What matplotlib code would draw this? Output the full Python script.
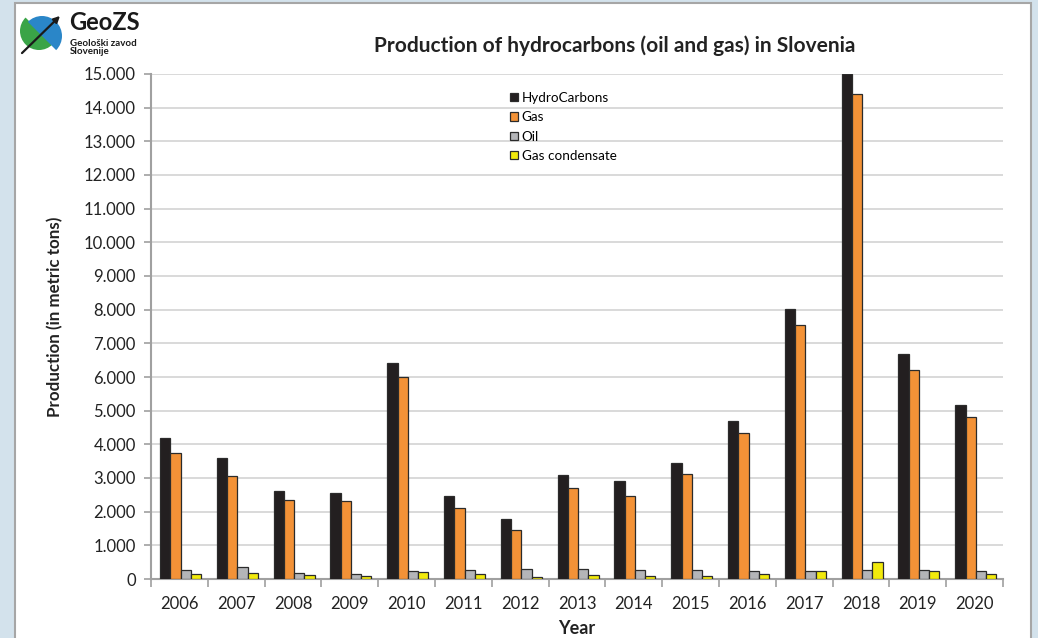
import matplotlib
matplotlib.use("Agg")
import matplotlib.pyplot as plt
import numpy as np
from matplotlib.patches import Rectangle, Wedge, FancyArrowPatch
from matplotlib.ticker import FuncFormatter, FixedLocator

plt.rcParams['font.family'] = ['Lato', 'DejaVu Sans']

years = ['2006', '2007', '2008', '2009', '2010', '2011', '2012', '2013',
         '2014', '2015', '2016', '2017', '2018', '2019', '2020']
hydrocarbons = [4180, 3580, 2620, 2550, 6420, 2470, 1780, 3090, 2910, 3460, 4690, 8010, 15000, 6690, 5170]
gas = [3740, 3070, 2350, 2330, 6000, 2100, 1460, 2700, 2460, 3110, 4330, 7550, 14410, 6220, 4820]
oil = [275, 350, 180, 150, 230, 270, 290, 310, 270, 270, 230, 250, 280, 280, 250]
condensate = [155, 170, 110, 100, 220, 150, 70, 130, 100, 100, 160, 240, 500, 230, 150]

series_names = ['HydroCarbons', 'Gas', 'Oil', 'Gas condensate']
series_colors = ['#231f20', '#f39237', '#b4b5b8', '#f2ea0c']
series_values = [hydrocarbons, gas, oil, condensate]

W, H = 1038, 638
fig = plt.figure(figsize=(W / 100, H / 100), dpi=100)
fig.patch.set_facecolor('#d3e2ec')
# white chart frame
fig.patches.append(Rectangle((15 / W, -0.01), (1031 - 15) / W, 1.01 - 3 / H,
                             transform=fig.transFigure, facecolor='white',
                             edgecolor='#a6a6a6', linewidth=1.5, zorder=-5))

ax = fig.add_axes([151 / W, 1 - 579 / H, (1003 - 151) / W, (579 - 74) / H])
ax.set_facecolor('none')

x = np.arange(len(years))
bw = 0.18
for i, (name, col, vals) in enumerate(zip(series_names, series_colors, series_values)):
    ax.bar(x + (i - 1.5) * bw + 0.02, vals, width=bw, color=col, edgecolor='#2b2b2b',
           linewidth=0.9, label=name, zorder=3)

ax.set_xlim(-0.5, len(years) - 0.5)
ax.set_ylim(0, 15000)
ax.set_yticks(np.arange(0, 15001, 1000))
ax.yaxis.set_major_formatter(FuncFormatter(lambda v, p: f"{int(v):,}".replace(',', '.')))
ax.yaxis.grid(True, color='#d9d9d9', linewidth=1.4, zorder=0)
ax.set_axisbelow(True)

ax.set_xticks(x)
ax.set_xticklabels(years)
ax.xaxis.set_minor_locator(FixedLocator(np.arange(-0.5, len(years), 1.0)))
ax.tick_params(axis='x', which='major', length=0, pad=12, labelsize=12, labelcolor='#222222')
ax.tick_params(axis='x', which='minor', length=6, width=1.2, color='#a0a0a0', direction='out')
ax.tick_params(axis='y', which='major', length=5, width=1.2, color='#a0a0a0', pad=6,
               labelsize=12, labelcolor='#222222')

for s in ['top', 'right']:
    ax.spines[s].set_visible(False)
for s in ['left', 'bottom']:
    ax.spines[s].set_color('#a0a0a0')
    ax.spines[s].set_linewidth(1.5)

ax.set_xlabel('Year', fontsize=13, fontweight='bold', labelpad=6, color='#222222')
ax.set_ylabel('Production (in metric tons)', fontsize=12.2, fontweight='bold',
              color='#222222')
ax.yaxis.set_label_coords(-0.103, 0.52)

fig.text(615 / W, 1 - 46 / H, 'Production of hydrocarbons (oil and gas) in Slovenia',
         ha='center', va='center', fontsize=15, fontweight='bold', color='#222222')

leg = ax.legend(loc='upper left', bbox_to_anchor=((503 - 151) / (1003 - 151), (579 - 85) / (579 - 74)),
                frameon=False, fontsize=9.7, handlelength=0.6, handleheight=0.6,
                handletextpad=0.3, labelspacing=0.55, borderpad=0)

# Logo
lax = fig.add_axes([0, 1 - 70 / H, 200 / W, 70 / H])
lax.set_xlim(0, 200)
lax.set_ylim(70, 0)
lax.set_aspect('equal')
lax.axis('off')
lax.add_patch(Wedge((39, 31), 19, 45, 225, facecolor='#3aa447', edgecolor='none'))
lax.add_patch(Wedge((42, 36), 20, 225, 405, facecolor='#2a86c8', edgecolor='none'))
lax.add_patch(FancyArrowPatch((20, 55), (62, 14), arrowstyle='-|>', mutation_scale=9,
                              color='#1a1a1a', linewidth=1.6))
lax.text(69, 23, 'GeoZS', fontsize=17, fontweight='bold', va='center', ha='left', color='#1a1a1a')
lax.text(70, 43, 'Geološki zavod', fontsize=7, fontweight='bold', va='center', ha='left',
         color='#1a1a1a')
lax.text(70, 52, 'Slovenije', fontsize=7, fontweight='bold', va='center', ha='left',
         color='#1a1a1a')

fig.savefig('out.png', dpi=100)
